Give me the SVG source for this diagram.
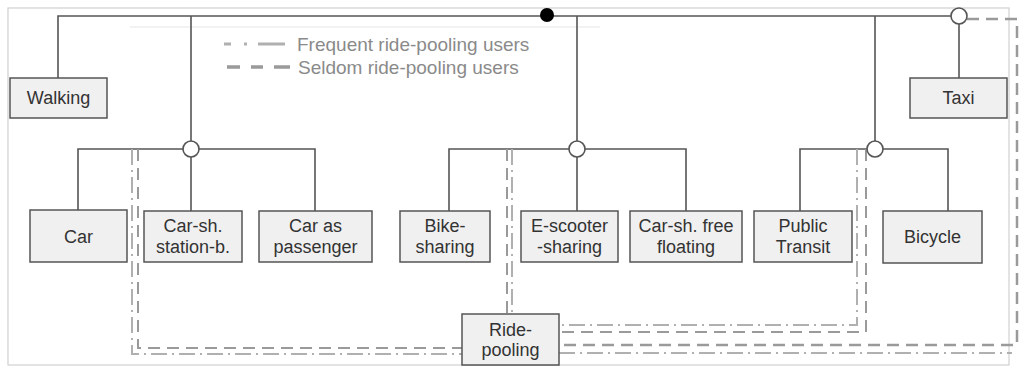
<svg xmlns="http://www.w3.org/2000/svg" width="1020" height="370" viewBox="0 0 1020 370">
<style>
.box{fill:#f0f0f0;stroke:#555;stroke-width:1.5}
.lbl{font-family:"Liberation Sans",Arial,sans-serif;font-size:18px;fill:#333;text-anchor:middle}
.leg{font-family:"Liberation Sans",Arial,sans-serif;font-size:19px;fill:#8a8a8a}
.solid{fill:none;stroke:#555;stroke-width:1.6}
.node{fill:#fff;stroke:#555;stroke-width:1.6}
.seldom{fill:none;stroke:#9a9a9a;stroke-width:2;stroke-dasharray:12 7}
.freq{fill:none;stroke:#b0b0b0;stroke-width:2;stroke-dasharray:16 5 2 5}
</style>
<rect x="0" y="0" width="1020" height="370" fill="#fff"/>
<rect x="8" y="8" width="1001" height="357" fill="none" stroke="#d0d0d0" stroke-width="1.2"/>
<line x1="130" y1="27" x2="600" y2="27" stroke="#e6e6e6" stroke-width="1"/>

<g id="legend">
<path d="M224 44 H231 M244 44 H247 M258 44 H285" stroke="#b0b0b0" stroke-width="3" fill="none"/>
<text class="leg" x="297" y="51">Frequent ride-pooling users</text>
<path d="M227 67 H240 M251 67 H263 M274 67 H290" stroke="#9a9a9a" stroke-width="3.5" fill="none"/>
<text class="leg" x="298" y="74">Seldom ride-pooling users</text>
</g>

<g id="connectors">
<path class="solid" d="M58 78 V16 H959"/>
<path class="solid" d="M191 16 V141"/>
<path class="solid" d="M577 16 V141"/>
<path class="solid" d="M875 16 V141"/>
<path class="solid" d="M959 24 V78"/>
<path class="solid" d="M78 210 V149 H315 V211"/>
<path class="solid" d="M191 157 V211"/>
<path class="solid" d="M449 211 V149 H686 V211"/>
<path class="solid" d="M577 157 V211"/>
<path class="solid" d="M800 211 V149 H948 V211"/>
<path class="seldom" d="M138 149 V348 H462"/>
<path class="seldom" d="M507 149 V314"/>
<path class="seldom" d="M866 149 V332 H559"/>
<path class="seldom" d="M967 19 H1017 V345 H559" style="stroke-width:2.5"/>
<path class="freq" d="M132 149 V354 H462"/>
<path class="freq" d="M512 149 V314"/>
<path class="freq" d="M857 149 V325 H559"/>
<path class="freq" d="M559 353 H1012"/>
<circle cx="547" cy="15" r="7" fill="#000"/>
<circle class="node" cx="191" cy="149" r="8"/>
<circle class="node" cx="577" cy="149" r="8"/>
<circle class="node" cx="875" cy="149" r="8"/>
<circle class="node" cx="959" cy="16" r="8"/>
</g>

<g id="walking"><rect class="box" x="10" y="78" width="97" height="40"/><text class="lbl" x="58.5" y="104">Walking</text></g>
<g id="taxi"><rect class="box" x="910" y="78" width="97" height="40"/><text class="lbl" x="958.5" y="104">Taxi</text></g>
<g id="car"><rect class="box" x="30" y="210" width="97" height="52"/><text class="lbl" x="78.5" y="243">Car</text></g>
<g id="carsh-station"><rect class="box" x="144" y="211" width="98" height="51"/><text class="lbl" x="193" y="232">Car-sh.</text><text class="lbl" x="193" y="253">station-b.</text></g>
<g id="car-passenger"><rect class="box" x="259" y="211" width="113" height="51"/><text class="lbl" x="315.5" y="232">Car as</text><text class="lbl" x="315.5" y="253">passenger</text></g>
<g id="bike-sharing"><rect class="box" x="400" y="211" width="90" height="51"/><text class="lbl" x="445" y="232">Bike-</text><text class="lbl" x="445" y="253">sharing</text></g>
<g id="escooter"><rect class="box" x="521" y="211" width="97" height="51"/><text class="lbl" x="569.5" y="232">E-scooter</text><text class="lbl" x="569.5" y="253">-sharing</text></g>
<g id="carsh-free"><rect class="box" x="630" y="211" width="112" height="51"/><text class="lbl" x="686" y="232">Car-sh. free</text><text class="lbl" x="686" y="253">floating</text></g>
<g id="public-transit"><rect class="box" x="754" y="211" width="98" height="51"/><text class="lbl" x="803" y="232">Public</text><text class="lbl" x="803" y="253">Transit</text></g>
<g id="bicycle"><rect class="box" x="883" y="211" width="99" height="52"/><text class="lbl" x="932.5" y="243">Bicycle</text></g>
<g id="ride-pooling"><rect class="box" x="462" y="314" width="97" height="51"/><text class="lbl" x="510.5" y="336">Ride-</text><text class="lbl" x="510.5" y="356">pooling</text></g>
</svg>
